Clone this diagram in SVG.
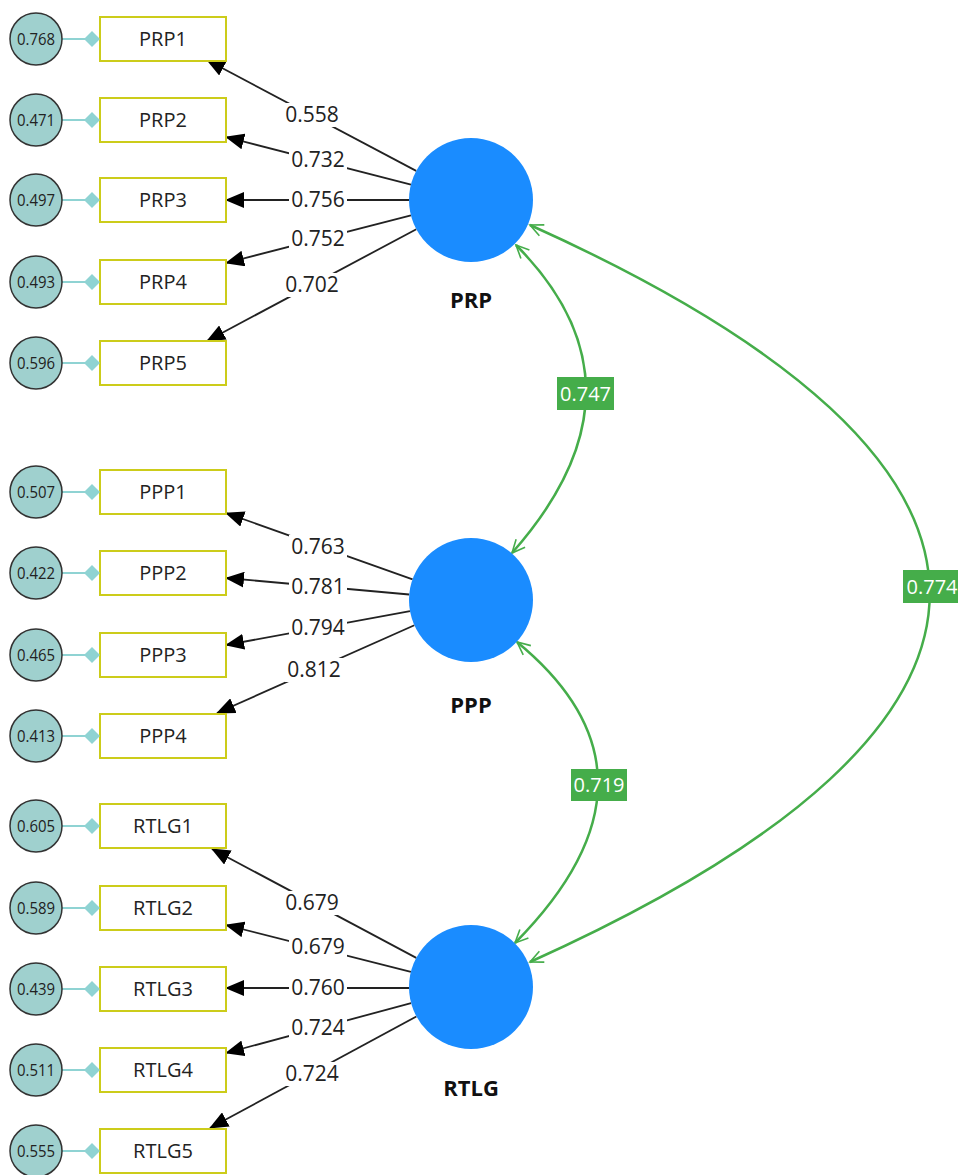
<svg xmlns="http://www.w3.org/2000/svg" width="958" height="1175" viewBox="0 0 958 1175">
<style>
text{font-family:"Open Sans","Noto Sans","Liberation Sans",sans-serif;fill:#222}
.err circle{fill:#9fd0ce;stroke:#333;stroke-width:1.5}
.err text{font-size:16px;text-anchor:middle}
.link{stroke:#8fd3d3;stroke-width:2}
.dia{fill:#8fd3d3}
.ind rect{fill:#fff;stroke:#cccc1a;stroke-width:2}
.ind text{font-size:20px;text-anchor:middle}
.lv circle{fill:#1a8cff}
.lv text{font-size:22px;font-weight:bold;text-anchor:middle;fill:#111}
.ld line{stroke:#222;stroke-width:1.8;marker-end:url(#ah)}
.ldl rect{fill:#fff}
.ldl text{font-size:21px;text-anchor:middle}
.cor{fill:none;stroke:#45ad4a;stroke-width:2.5;marker-start:url(#gh);marker-end:url(#gh)}
.corl rect{fill:#45ad4a}
.corl text{font-size:20px;text-anchor:middle;fill:#fff}
</style>
<defs>
<marker id="ah" markerUnits="userSpaceOnUse" markerWidth="19" markerHeight="16" viewBox="0 0 19 16" refX="18" refY="8" orient="auto"><path d="M0,0 L19,8 L0,16 Z" fill="#000"/></marker>
<marker id="gh" markerUnits="userSpaceOnUse" markerWidth="16" markerHeight="16" viewBox="0 0 16 16" refX="14" refY="8" orient="auto-start-reverse"><path d="M1,2 L14,8 L1,14" fill="none" stroke="#45ad4a" stroke-width="1.6"/></marker>
<g id="errtpl"><line class="link" x1="62" y1="0" x2="86" y2="0"/><path class="dia" d="M84,0 L92,-8 L100,0 L92,8 Z"/></g>
</defs>

<g id="connectors">
<g class="ld">
<line x1="416.2" y1="170.9" x2="207" y2="60"/>
<line x1="411" y1="184.6" x2="226" y2="137"/>
<line x1="409" y1="200" x2="226" y2="200"/>
<line x1="411" y1="215.4" x2="226" y2="263"/>
<line x1="416.3" y1="229.2" x2="207" y2="341"/>
<line x1="412.6" y1="579.3" x2="226" y2="513"/>
<line x1="409.2" y1="594.5" x2="226" y2="578"/>
<line x1="410" y1="611.2" x2="226" y2="645"/>
<line x1="414.4" y1="625.2" x2="217" y2="713"/>
<line x1="416.3" y1="957.9" x2="212" y2="849"/>
<line x1="410.9" y1="971.8" x2="226" y2="925"/>
<line x1="409" y1="988" x2="226" y2="988"/>
<line x1="411.1" y1="1003.1" x2="226" y2="1053"/>
<line x1="416.4" y1="1016.5" x2="210" y2="1128"/>
</g>
<g class="ldl">
<rect x="283" y="103" width="58" height="24"/><text x="312" y="122">0.558</text>
<rect x="289" y="148" width="58" height="24"/><text x="318" y="167">0.732</text>
<rect x="289" y="188" width="58" height="24"/><text x="318" y="207">0.756</text>
<rect x="289" y="227" width="58" height="24"/><text x="318" y="246">0.752</text>
<rect x="283" y="273" width="58" height="24"/><text x="312" y="292">0.702</text>
<rect x="289" y="535" width="58" height="24"/><text x="318" y="554">0.763</text>
<rect x="289" y="575" width="58" height="24"/><text x="318" y="594">0.781</text>
<rect x="289" y="616" width="58" height="24"/><text x="318" y="635">0.794</text>
<rect x="285" y="658" width="58" height="24"/><text x="314" y="677">0.812</text>
<rect x="283" y="891" width="58" height="24"/><text x="312" y="910">0.679</text>
<rect x="289" y="935" width="58" height="24"/><text x="318" y="954">0.679</text>
<rect x="289" y="976" width="58" height="24"/><text x="318" y="995">0.760</text>
<rect x="289" y="1016" width="58" height="24"/><text x="318" y="1035">0.724</text>
<rect x="283" y="1062" width="58" height="24"/><text x="312" y="1081">0.724</text>
</g>
<path class="cor" d="M516,245 Q658,388 512,553"/>
<path class="cor" d="M517,642 Q680,776 515,943"/>
<path class="cor" d="M530,225 C1063,465 1063,722 530,962"/>
<g class="corl">
<rect x="557" y="377" width="57" height="33"/><text x="585.5" y="401">0.747</text>
<rect x="571" y="769" width="56" height="32"/><text x="599" y="792">0.719</text>
<rect x="903" y="570" width="58" height="33"/><text x="932" y="594">0.774</text>
</g>
</g>

<g id="PRP" class="lv"><circle cx="471" cy="200" r="62"/><text x="471" y="308">PRP</text></g>
<g id="PPP" class="lv"><circle cx="471" cy="600" r="62"/><text x="471" y="713">PPP</text></g>
<g id="RTLG" class="lv"><circle cx="471" cy="987" r="62"/><text x="471" y="1096">RTLG</text></g>

<g id="PRP1" class="ind"><rect x="100" y="17" width="126" height="44"/><text x="163" y="46">PRP1</text></g>
<g id="PRP2" class="ind"><rect x="100" y="98" width="126" height="44"/><text x="163" y="127">PRP2</text></g>
<g id="PRP3" class="ind"><rect x="100" y="178" width="126" height="44"/><text x="163" y="207">PRP3</text></g>
<g id="PRP4" class="ind"><rect x="100" y="260" width="126" height="44"/><text x="163" y="289">PRP4</text></g>
<g id="PRP5" class="ind"><rect x="100" y="341" width="126" height="44"/><text x="163" y="370">PRP5</text></g>
<g id="PPP1" class="ind"><rect x="100" y="470" width="126" height="44"/><text x="163" y="499">PPP1</text></g>
<g id="PPP2" class="ind"><rect x="100" y="551" width="126" height="44"/><text x="163" y="580">PPP2</text></g>
<g id="PPP3" class="ind"><rect x="100" y="633" width="126" height="44"/><text x="163" y="662">PPP3</text></g>
<g id="PPP4" class="ind"><rect x="100" y="714" width="126" height="44"/><text x="163" y="743">PPP4</text></g>
<g id="RTLG1" class="ind"><rect x="100" y="804" width="126" height="44"/><text x="163" y="833">RTLG1</text></g>
<g id="RTLG2" class="ind"><rect x="100" y="886" width="126" height="44"/><text x="163" y="915">RTLG2</text></g>
<g id="RTLG3" class="ind"><rect x="100" y="967" width="126" height="44"/><text x="163" y="996">RTLG3</text></g>
<g id="RTLG4" class="ind"><rect x="100" y="1048" width="126" height="44"/><text x="163" y="1077">RTLG4</text></g>
<g id="RTLG5" class="ind"><rect x="100" y="1129" width="126" height="44"/><text x="163" y="1158">RTLG5</text></g>

<g id="e_PRP1" class="err"><use href="#errtpl" y="39"/><circle cx="36" cy="39" r="26"/><text x="36" y="45" textLength="38" lengthAdjust="spacingAndGlyphs">0.768</text></g>
<g id="e_PRP2" class="err"><use href="#errtpl" y="120"/><circle cx="36" cy="120" r="26"/><text x="36" y="126" textLength="38" lengthAdjust="spacingAndGlyphs">0.471</text></g>
<g id="e_PRP3" class="err"><use href="#errtpl" y="200"/><circle cx="36" cy="200" r="26"/><text x="36" y="206" textLength="38" lengthAdjust="spacingAndGlyphs">0.497</text></g>
<g id="e_PRP4" class="err"><use href="#errtpl" y="282"/><circle cx="36" cy="282" r="26"/><text x="36" y="288" textLength="38" lengthAdjust="spacingAndGlyphs">0.493</text></g>
<g id="e_PRP5" class="err"><use href="#errtpl" y="363"/><circle cx="36" cy="363" r="26"/><text x="36" y="369" textLength="38" lengthAdjust="spacingAndGlyphs">0.596</text></g>
<g id="e_PPP1" class="err"><use href="#errtpl" y="492"/><circle cx="36" cy="492" r="26"/><text x="36" y="498" textLength="38" lengthAdjust="spacingAndGlyphs">0.507</text></g>
<g id="e_PPP2" class="err"><use href="#errtpl" y="573"/><circle cx="36" cy="573" r="26"/><text x="36" y="579" textLength="38" lengthAdjust="spacingAndGlyphs">0.422</text></g>
<g id="e_PPP3" class="err"><use href="#errtpl" y="655"/><circle cx="36" cy="655" r="26"/><text x="36" y="661" textLength="38" lengthAdjust="spacingAndGlyphs">0.465</text></g>
<g id="e_PPP4" class="err"><use href="#errtpl" y="736"/><circle cx="36" cy="736" r="26"/><text x="36" y="742" textLength="38" lengthAdjust="spacingAndGlyphs">0.413</text></g>
<g id="e_RTLG1" class="err"><use href="#errtpl" y="826"/><circle cx="36" cy="826" r="26"/><text x="36" y="832" textLength="38" lengthAdjust="spacingAndGlyphs">0.605</text></g>
<g id="e_RTLG2" class="err"><use href="#errtpl" y="908"/><circle cx="36" cy="908" r="26"/><text x="36" y="914" textLength="38" lengthAdjust="spacingAndGlyphs">0.589</text></g>
<g id="e_RTLG3" class="err"><use href="#errtpl" y="989"/><circle cx="36" cy="989" r="26"/><text x="36" y="995" textLength="38" lengthAdjust="spacingAndGlyphs">0.439</text></g>
<g id="e_RTLG4" class="err"><use href="#errtpl" y="1070"/><circle cx="36" cy="1070" r="26"/><text x="36" y="1076" textLength="38" lengthAdjust="spacingAndGlyphs">0.511</text></g>
<g id="e_RTLG5" class="err"><use href="#errtpl" y="1151"/><circle cx="36" cy="1151" r="26"/><text x="36" y="1157" textLength="38" lengthAdjust="spacingAndGlyphs">0.555</text></g>
</svg>
